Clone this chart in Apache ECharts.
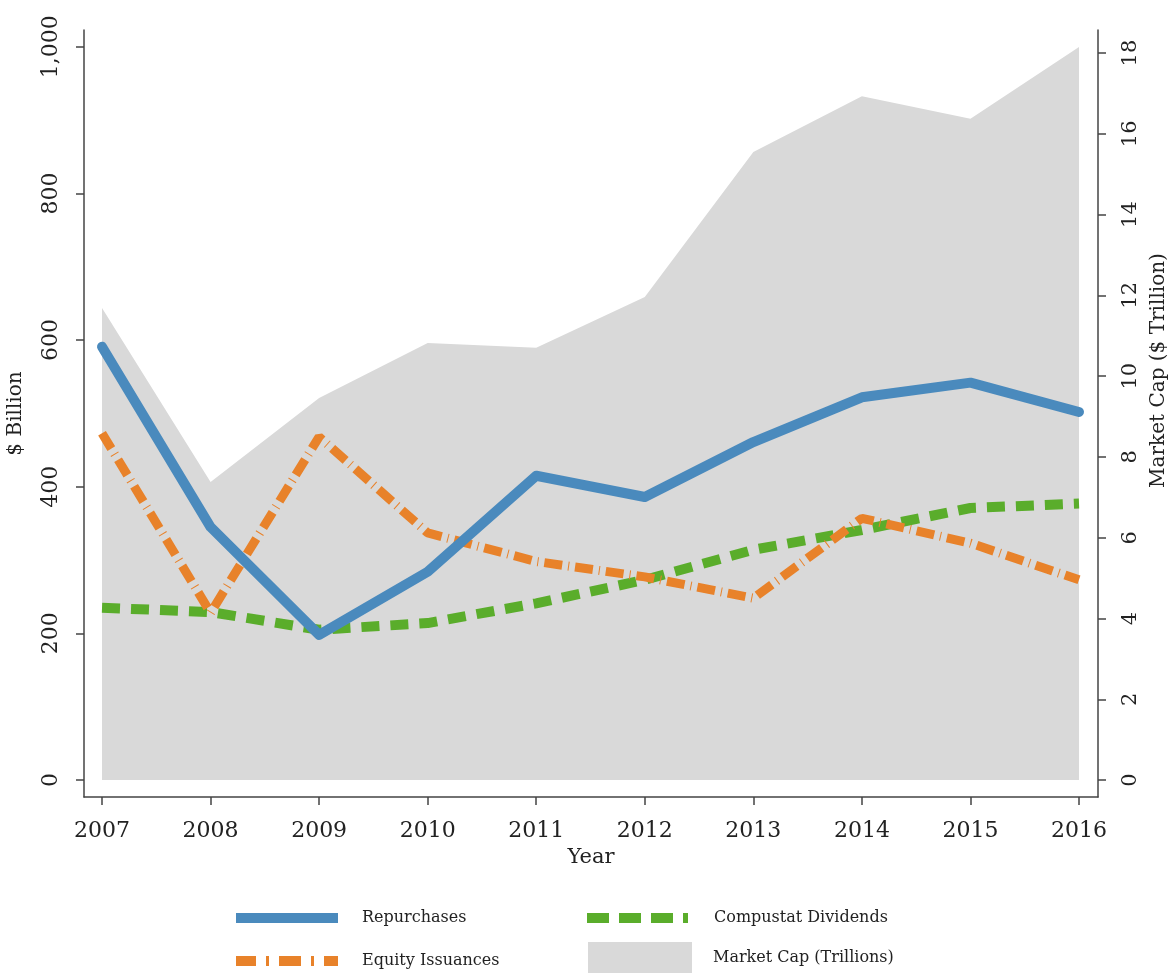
<!DOCTYPE html>
<html>
 <head>
  <meta charset="utf-8" />
  <title>Repurchases, Issuances and Dividends</title>
  <script src="https://cdn.jsdelivr.net/npm/echarts@6/dist/echarts.min.js"></script>
 </head>
 <body style="margin:0;background:#fff;">
  <div id="main" style="width:1172px;height:973px;"></div>
  <script type="text/javascript">

    // values
    var years = [2007, 2008, 2009, 2010, 2011, 2012, 2013, 2014, 2015, 2016];
    var repurchases = [591, 345, 198, 284, 415, 386, 461, 522, 542, 502];
    var equityIssuances = [473, 228, 468, 337, 298, 277, 248, 357, 323, 273];
    var dividends = [235, 229, 205, 214, 241, 273, 314, 341, 371, 377];
    var marketCap = [11.69, 7.38, 9.46, 10.82, 10.7, 11.96, 15.55, 16.93, 16.37, 18.15];

    var leftTicks = [0, 200, 400, 600, 800, 1000];
    var rightTicks = [0, 2, 4, 6, 8, 10, 12, 14, 16, 18];

    function pairs(vals) {
        return years.map(function (y, i) { return [y, vals[i]]; });
    }

    var font = 'DejaVu Serif';
    var axisCol = '#444';
    var blue = '#4a8abd', orange = '#e8822a', green = '#5aad2b', grey = '#d9d9d9';

    // legend icons drawn as dash patterns (102 x 10)
    var greenIcon = 'path://M0,0h22v10h-22z M32,0h22v10h-22z M64,0h22v10h-22z M96,0h5v10h-5z';
    var orangeIcon = 'path://M0,0h20v10h-20z M30,0h3v10h-3z M43,0h22v10h-22z M75,0h3v10h-3z M88,0h14v10h-14z';

    function legendItem(name, icon, left, top, w, h, pad) {
        return {
            orient: 'horizontal', left: left, top: top, padding: 0,
            itemWidth: w, itemHeight: h,
            textStyle: { fontFamily: font, fontSize: 16, color: '#222', padding: [0, 0, 0, pad] },
            data: [{ name: name, icon: icon }]
        };
    }

    var myChart = echarts.init(document.getElementById('main'));

    myChart.setOption({
        animation: false,
        textStyle: { fontFamily: font },
        grid: { left: 84, right: 74, top: 30, bottom: 176, outerBoundsMode: 'none' },
        legend: [
            legendItem('Repurchases', 'rect', 236, 910, 102, 10, 19),
            legendItem('Equity Issuances', orangeIcon, 236, 953, 102, 10, 19),
            legendItem('Compustat Dividends', greenIcon, 587, 910, 101, 10, 21),
            legendItem('Market Cap (Trillions)', 'rect', 588, 942, 104, 31, 16)
        ],
        xAxis: {
            type: 'value',
            min: 2006.834, max: 2016.175,
            name: 'Year', nameLocation: 'middle', nameGap: 50,
            nameTextStyle: { fontFamily: font, fontSize: 21, color: '#222' },
            splitLine: { show: false },
            axisLine: { onZero: false, lineStyle: { color: axisCol, width: 1.5 } },
            axisTick: { length: 8, lineStyle: { color: axisCol, width: 1.5 }, customValues: years },
            axisLabel: { customValues: years, margin: 23, fontSize: 22, color: '#222',
                formatter: function (v) { return String(v); } }
        },
        yAxis: [{
            type: 'value',
            min: -23.2, max: 1023,
            name: '$ Billion', nameLocation: 'middle', nameGap: 58, nameRotate: 90,
            nameTextStyle: { fontFamily: font, fontSize: 20, color: '#222' },
            splitLine: { show: false },
            axisLine: { show: true, onZero: false, lineStyle: { color: axisCol, width: 1.5 } },
            axisTick: { show: true, length: 8, lineStyle: { color: axisCol, width: 1.5 }, customValues: leftTicks },
            axisLabel: { customValues: leftTicks, rotate: 90, margin: 22, fontSize: 22, color: '#222',
                formatter: function (v) { return v >= 1000 ? '1,000' : String(v); } }
        }, {
            type: 'value',
            position: 'right',
            min: -0.42, max: 18.57,
            name: 'Market Cap ($ Trillion)', nameLocation: 'middle', nameGap: 50, nameRotate: 90,
            nameTextStyle: { fontFamily: font, fontSize: 20, color: '#222', padding: [0, 0, 0, 86] },
            splitLine: { show: false },
            axisLine: { show: true, onZero: false, lineStyle: { color: axisCol, width: 1.5 } },
            axisTick: { show: true, length: 8, lineStyle: { color: axisCol, width: 1.5 }, customValues: rightTicks },
            axisLabel: { customValues: rightTicks, rotate: 90, margin: 22, fontSize: 21, color: '#222' }
        }],
        series: [{
            name: 'Market Cap (Trillions)',
            type: 'line',
            yAxisIndex: 1,
            symbol: 'none',
            data: pairs(marketCap),
            itemStyle: { color: grey },
            lineStyle: { width: 0, color: grey },
            areaStyle: { color: grey, opacity: 1 },
            z: 1
        }, {
            name: 'Compustat Dividends',
            type: 'line',
            symbol: 'none',
            data: pairs(dividends),
            itemStyle: { color: green },
            lineStyle: { color: green, width: 10, type: [18, 11], cap: 'butt' },
            z: 3
        }, {
            name: 'Equity Issuances',
            type: 'line',
            symbol: 'none',
            data: pairs(equityIssuances),
            itemStyle: { color: orange },
            lineStyle: { color: orange, width: 9, type: [18, 6, 1, 6], cap: 'butt' },
            z: 4
        }, {
            name: 'Repurchases',
            type: 'line',
            symbol: 'none',
            data: pairs(repurchases),
            itemStyle: { color: blue },
            lineStyle: { color: blue, width: 10, cap: 'round', join: 'round' },
            z: 5
        }]
    });
</script>
 </body>
</html>
